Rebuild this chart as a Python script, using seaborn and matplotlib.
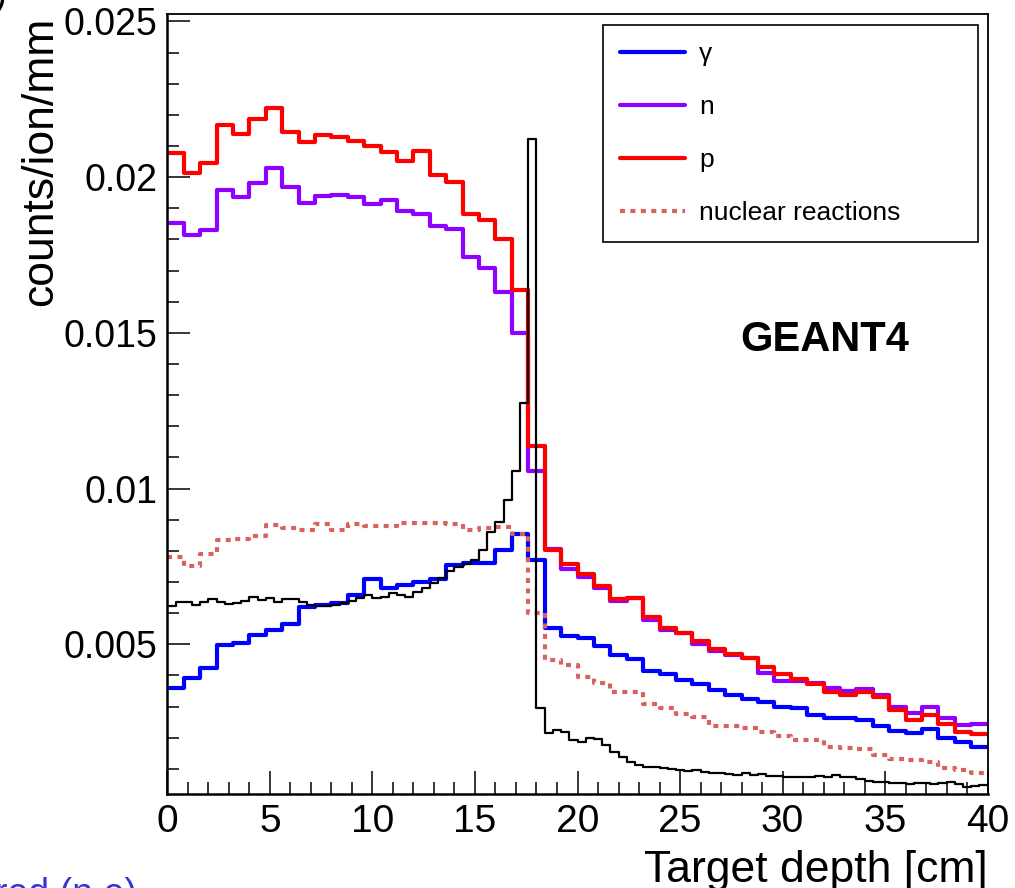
import numpy as np
import pandas as pd
import matplotlib
matplotlib.use("Agg")
import matplotlib.pyplot as plt
from matplotlib.lines import Line2D
from matplotlib.ticker import MultipleLocator, FuncFormatter
import seaborn as sns

# ---------------- data (counts/ion/mm per bin) ----------------
depth_range = (0.0, 40.0)
n_coarse_bins = 50   # 0.8 cm bins
n_fine_bins = 100    # 0.4 cm bins

gamma_vals = [0.00358, 0.00390, 0.00425, 0.00497, 0.00505, 0.00529, 0.00547, 0.00566, 0.00618, 0.00625,
              0.00633, 0.00657, 0.00708, 0.00679, 0.00689, 0.00700, 0.00708, 0.00754, 0.00761, 0.00761,
              0.00802, 0.00855, 0.00772, 0.00553, 0.00525, 0.00521, 0.00493, 0.00464, 0.00454, 0.00413,
              0.00403, 0.00384, 0.00371, 0.00354, 0.00336, 0.00325, 0.00314, 0.00298, 0.00296, 0.00272,
              0.00264, 0.00264, 0.00258, 0.00236, 0.00221, 0.00215, 0.00229, 0.00200, 0.00186, 0.00170]

neutron_vals = [0.01853, 0.01813, 0.01830, 0.01958, 0.01937, 0.01980, 0.02028, 0.01967, 0.01916, 0.01940,
                0.01944, 0.01937, 0.01913, 0.01928, 0.01892, 0.01883, 0.01844, 0.01833, 0.01742, 0.01707,
                0.01630, 0.01498, 0.01056, 0.00807, 0.00740, 0.00716, 0.00682, 0.00639, 0.00647, 0.00577,
                0.00545, 0.00537, 0.00500, 0.00478, 0.00466, 0.00455, 0.00408, 0.00382, 0.00382, 0.00376,
                0.00358, 0.00350, 0.00355, 0.00336, 0.00298, 0.00280, 0.00298, 0.00264, 0.00240, 0.00245]

proton_vals = [0.02078, 0.02014, 0.02044, 0.02169, 0.02140, 0.02186, 0.02223, 0.02146, 0.02113, 0.02135,
               0.02128, 0.02117, 0.02100, 0.02081, 0.02052, 0.02083, 0.02006, 0.01985, 0.01881, 0.01862,
               0.01803, 0.01637, 0.01136, 0.00802, 0.00759, 0.00725, 0.00686, 0.00644, 0.00650, 0.00586,
               0.00553, 0.00537, 0.00510, 0.00486, 0.00468, 0.00457, 0.00427, 0.00403, 0.00387, 0.00371,
               0.00347, 0.00336, 0.00345, 0.00329, 0.00288, 0.00258, 0.00272, 0.00243, 0.00218, 0.00213]

nuclear_vals = [0.00780, 0.00751, 0.00791, 0.00834, 0.00839, 0.00847, 0.00884, 0.00872, 0.00868, 0.00885,
                0.00866, 0.00885, 0.00879, 0.00879, 0.00888, 0.00890, 0.00888, 0.00885, 0.00866, 0.00872,
                0.00877, 0.00855, 0.00599, 0.00449, 0.00433, 0.00394, 0.00376, 0.00347, 0.00347, 0.00307,
                0.00296, 0.00277, 0.00266, 0.00237, 0.00237, 0.00232, 0.00218, 0.00204, 0.00193, 0.00193,
                0.00170, 0.00167, 0.00165, 0.00144, 0.00130, 0.00128, 0.00122, 0.00104, 0.00096, 0.00085]

primary_vals = [0.00622, 0.00636, 0.00636, 0.00626, 0.00636, 0.00645, 0.00636, 0.00629, 0.00633, 0.00639,
                0.00652, 0.00641, 0.00647, 0.00636, 0.00645, 0.00645, 0.00636, 0.00626, 0.00623, 0.00623,
                0.00626, 0.00633, 0.00639, 0.00647, 0.00659, 0.00649, 0.00652, 0.00663, 0.00658, 0.00652,
                0.00668, 0.00682, 0.00697, 0.00714, 0.00735, 0.00748, 0.00759, 0.00772, 0.00802, 0.00861,
                0.00893, 0.00962, 0.01057, 0.01275, 0.02121, 0.00296, 0.00216, 0.00224, 0.00218, 0.00193,
                0.00186, 0.00200, 0.00197, 0.00175, 0.00154, 0.00138, 0.00122, 0.00111, 0.00106, 0.00107,
                0.00104, 0.00098, 0.00096, 0.00093, 0.00096, 0.00091, 0.00088, 0.00085, 0.00083, 0.00081,
                0.00085, 0.00079, 0.00083, 0.00077, 0.00077, 0.00075, 0.00074, 0.00074, 0.00073, 0.00077,
                0.00075, 0.00079, 0.00075, 0.00073, 0.00066, 0.00061, 0.00056, 0.00058, 0.00054, 0.00053,
                0.00051, 0.00053, 0.00054, 0.00051, 0.00054, 0.00058, 0.00051, 0.00043, 0.00045, 0.00047]

legend_labels = ["\u03b3", "n", "p", "nuclear reactions"]
x_ticks = [0, 5, 10, 15, 20, 25, 30, 35, 40]
y_ticks = [0.005, 0.01, 0.015, 0.02, 0.025]

# ---------------- style ----------------
sns.set_theme(style="white")
plt.rcParams['font.family'] = ['Liberation Sans', 'DejaVu Sans']
plt.rcParams.update({
    "text.color": "black",
    "axes.labelcolor": "black",
    "xtick.color": "black",
    "ytick.color": "black",
    "axes.edgecolor": "black",
})

C_GAMMA = "#0000ff"
C_N = "#9000ff"
C_P = "#ff0000"
C_NUC = "#d9625f"
C_PRIM = "#000000"

W, H = 1015, 888
fig = plt.figure(figsize=(W / 100, H / 100), dpi=100)
ax = fig.add_axes([167.3 / W, 1 - 794 / H, (987.7 - 167.3) / W, (794 - 14) / H])

coarse_edges = list(np.linspace(depth_range[0], depth_range[1], n_coarse_bins + 1))
fine_edges = list(np.linspace(depth_range[0], depth_range[1], n_fine_bins + 1))
coarse_centers = [0.5 * (a + b) for a, b in zip(coarse_edges[:-1], coarse_edges[1:])]
fine_centers = [0.5 * (a + b) for a, b in zip(fine_edges[:-1], fine_edges[1:])]

lw_col = 3.0
dot_style = (0, (1.2, 1.3))


def draw(centers, vals, edges, color, lw, ls="-"):
    sns.histplot(x=centers, weights=vals, bins=edges, element="step", fill=False,
                 common_bins=False, color=color, lw=lw, linestyle=ls, ax=ax)


draw(coarse_centers, neutron_vals, coarse_edges, C_N, lw_col)
draw(coarse_centers, proton_vals, coarse_edges, C_P, lw_col)
draw(coarse_centers, gamma_vals, coarse_edges, C_GAMMA, lw_col)
draw(coarse_centers, nuclear_vals, coarse_edges, C_NUC, lw_col, dot_style)
draw(fine_centers, primary_vals, fine_edges, C_PRIM, 1.6)

ax.set_xlim(0, 40)
ax.set_ylim(0.00019, 0.02524)
ax.set_xlabel("")
ax.set_ylabel("")

ax.set_xticks(x_ticks)
ax.set_yticks(y_ticks)
ax.xaxis.set_minor_locator(MultipleLocator(1))
ax.yaxis.set_minor_locator(MultipleLocator(0.001))
ax.yaxis.set_major_formatter(FuncFormatter(lambda v, p: "%g" % v))
ax.xaxis.set_major_formatter(FuncFormatter(lambda v, p: "%g" % v))
ax.tick_params(which="both", direction="in", top=False, right=False, left=True, bottom=True,
               color="black", labelcolor="black", width=1.1)
ax.tick_params(which="major", length=16.5)
ax.tick_params(which="minor", length=8.6)
ax.tick_params(axis="y", which="major", labelsize=27, pad=7)
ax.tick_params(axis="x", which="major", labelsize=28, pad=7)
for s in ax.spines.values():
    s.set_color("black")
    s.set_linewidth(1.3)
ax.spines["left"].set_linewidth(1.8)
ax.spines["bottom"].set_linewidth(1.8)
ax.grid(False)

# legend
handles = [
    Line2D([], [], color=C_GAMMA, lw=lw_col),
    Line2D([], [], color=C_N, lw=lw_col),
    Line2D([], [], color=C_P, lw=lw_col),
    Line2D([], [], color=C_NUC, lw=lw_col, linestyle=dot_style),
]
leg = ax.legend(handles, legend_labels, loc="upper left", mode="expand",
                bbox_to_anchor=(603 / W, 0.3, 375 / W, (1 - 25 / H) - 0.3),
                bbox_transform=fig.transFigure, borderaxespad=0,
                fontsize=19, handlelength=2.45, handletextpad=0.55, labelspacing=1.1,
                borderpad=0.65, frameon=True, fancybox=False, framealpha=1)
leg.get_frame().set_edgecolor("black")
leg.get_frame().set_linewidth(1.2)
for t in leg.get_texts():
    t.set_color("black")

# texts
fig.text(740 / W, 1 - 350.7 / H, "GEANT4", fontsize=30, fontweight="bold",
         ha="left", va="baseline", color="black")
fig.text(988 / W, 1 - 882 / H, "Target depth [cm]", fontsize=32,
         ha="right", va="baseline", color="black")
fig.text(52 / W, 1 - 17 / H, "counts/ion/mm", fontsize=32, rotation=90,
         rotation_mode="anchor", ha="right", va="baseline", color="black")
# fragments of surrounding page text
fig.text(-5 / W, 1 - 905 / H, "red (n,e)", fontsize=27, color="#3535d8",
         ha="left", va="baseline")
fig.text(-6 / W, 1 - 6 / H, ")", fontsize=28, color="black", ha="left", va="baseline")

fig.savefig("out.png", dpi=100)
